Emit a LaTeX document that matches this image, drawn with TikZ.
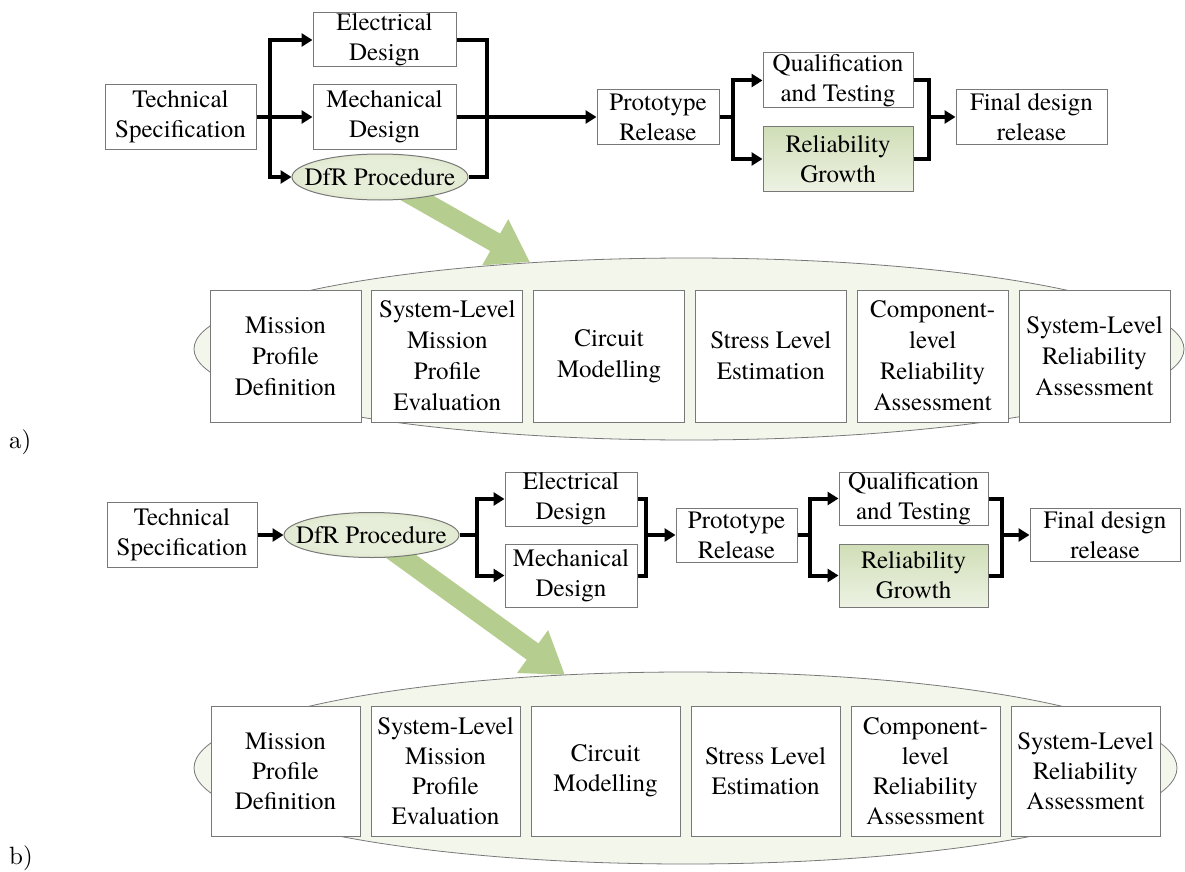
\documentclass[tikz,border=0pt]{standalone}
\usepackage{fontspec}
\setmainfont{texgyretermes-regular.otf}
\newfontfamily\lmfont{lmroman10-regular.otf}
\usetikzlibrary{arrows.meta,shapes.geometric,backgrounds}
\definecolor{boxline}{RGB}{120,120,120}
\definecolor{ellin}{RGB}{242,246,235}
\definecolor{ellout}{RGB}{192,211,158}
\definecolor{dfrin}{RGB}{230,237,216}
\definecolor{dfrout}{RGB}{198,215,168}
\definecolor{bigarr}{RGB}{181,205,142}
\definecolor{rgtop}{RGB}{208,222,183}
\definecolor{rgbot}{RGB}{237,242,227}
\pgfdeclareradialshading{ellshade}{\pgfpoint{0bp}{0bp}}{color(0bp)=(ellin); color(28bp)=(ellin); color(50bp)=(ellout)}
\pgfdeclareradialshading{dfrshade}{\pgfpoint{0bp}{0bp}}{color(0bp)=(dfrin); color(20bp)=(dfrin); color(50bp)=(dfrout)}
\tikzset{
  conn/.style={line width=4pt, black},
  arr/.style={conn, -{Triangle[length=11pt,width=13pt]}},
  box/.style={draw=boxline, line width=1pt, fill=white, align=center, inner sep=0pt,
    font=\rmfamily\fontsize{25}{30}\selectfont},
  stepbox/.style={box, minimum width=151pt, minimum height=132pt,
    font=\rmfamily\fontsize{25}{31}\selectfont},
  stepboxb/.style={box, minimum width=149pt, minimum height=130pt,
    font=\rmfamily\fontsize{25}{30}\selectfont},
  rg/.style={top color=rgtop, bottom color=rgbot},
  dfr/.style={ellipse, draw=boxline, line width=1pt, shade, shading=dfrshade, inner sep=0pt},
  dfrtext/.style={font=\rmfamily\fontsize{25}{30}\selectfont, inner sep=0pt},
  bigell/.style={ellipse, draw=boxline, line width=0.8pt, shade, shading=ellshade, inner sep=0pt},
  bigarrow/.style={bigarr, line width=20pt, -{Triangle[length=40pt,width=50pt]}},
  lbl/.style={anchor=base west, inner sep=0pt, font=\lmfont\fontsize{25}{30}\selectfont}
}
\begin{document}
\begin{tikzpicture}[x=1pt,y=-1pt]
\useasboundingbox (0,0) rectangle (1185,872);

% ---------------- part a ----------------
\node[bigell, minimum width=990pt, minimum height=182pt] (ellA) at (689,349) {};

\node[box, minimum width=151pt, minimum height=64pt] (tsA) at (180.5,117) {Technical\\Specification};
\node[box, minimum width=143pt, minimum height=54pt] (elA) at (384.5,40) {Electrical\\Design};
\node[box, minimum width=143pt, minimum height=64pt] (meA) at (384.5,117) {Mechanical\\Design};
\node[dfr, minimum width=176pt, minimum height=46pt,
      label={[dfrtext]center:DfR Procedure}] (dfrA) at (380,177) {};
\node[box, minimum width=122pt, minimum height=55pt] (prA) at (658,117) {Prototype\\Release};
\node[box, minimum width=150pt, minimum height=55pt] (qtA) at (838,80.5) {Qualification\\and Testing};
\node[box, rg, minimum width=150pt, minimum height=64pt] (rgA) at (838,159) {Reliability\\Growth};
\node[box, minimum width=151pt, minimum height=55pt] (fdA) at (1031.5,117) {Final design\\release};

\coordinate (busA1) at (270,117);
\coordinate (busA2) at (487,117);
\coordinate (busA3) at (733,117);
\coordinate (busA4) at (929,117);
\coordinate (tipA) at (530,262);

\draw[conn] (tsA.east) -- (busA1);
\draw[arr] (busA1) |- (elA.west);
\draw[arr] (busA1) -- (meA.west);
\draw[arr] (busA1) |- (dfrA.west);
\draw[conn] (elA.east) -| (busA2);
\draw[conn] (meA.east) -- (busA2);
\draw[conn] (dfrA.east) -| (busA2);
\draw[arr] (busA2) -- (prA.west);
\draw[conn] (prA.east) -- (busA3);
\draw[arr] (busA3) |- (qtA.west);
\draw[arr] (busA3) |- (rgA.west);
\draw[conn] (qtA.east) -| (busA4);
\draw[conn] (rgA.east) -| (busA4);
\draw[arr] (busA4) -- (fdA.west);

\node[stepbox] (a1) at (285.5,356) {Mission\\Profile\\Definition};
\node[stepbox] (a2) at (447.3,356) {System-Level\\Mission\\Profile\\Evaluation};
\node[stepbox] (a3) at (609.1,356) {Circuit\\Modelling};
\node[stepbox] (a4) at (770.9,356) {Stress Level\\Estimation};
\node[stepbox] (a5) at (932.7,356) {Component-\\level\\Reliability\\Assessment};
\node[stepbox] (a6) at (1094.5,356) {System-Level\\Reliability\\Assessment};

\node[lbl] (la) at (9,448) {a)};

% ---------------- part b ----------------
\node[bigell, minimum width=983pt, minimum height=192pt] (ellB) at (685.5,768) {};

\node[box, minimum width=150pt, minimum height=65pt] (tsB) at (182,535) {Technical\\Specification};
\node[dfr, minimum width=175pt, minimum height=45pt,
      label={[dfrtext]center:DfR Procedure}] (dfrB) at (371.5,535) {};
\node[box, minimum width=132pt, minimum height=54pt] (elB) at (571,499) {Electrical\\Design};
\node[box, minimum width=132pt, minimum height=63pt] (meB) at (571,575.5) {Mechanical\\Design};
\node[box, minimum width=121pt, minimum height=54pt] (prB) at (736.5,535) {Prototype\\Release};
\node[box, minimum width=149pt, minimum height=53pt] (qtB) at (913.5,498.5) {Qualification\\and Testing};
\node[box, rg, minimum width=149pt, minimum height=63pt] (rgB) at (913.5,575.5) {Reliability\\Growth};
\node[box, minimum width=150pt, minimum height=53pt] (fdB) at (1105,535) {Final design\\release};

\coordinate (busB1) at (477,535);
\coordinate (busB2) at (646,535);
\coordinate (busB3) at (810,535);
\coordinate (busB4) at (1002,535);
\coordinate (tipB) at (565,675);

\draw[arr] (tsB.east) -- (dfrB.west);
\draw[conn] (dfrB.east) -- (busB1);
\draw[arr] (busB1) |- (elB.west);
\draw[arr] (busB1) |- (meB.west);
\draw[conn] (elB.east) -| (busB2);
\draw[conn] (meB.east) -| (busB2);
\draw[arr] (busB2) -- (prB.west);
\draw[conn] (prB.east) -- (busB3);
\draw[arr] (busB3) |- (qtB.west);
\draw[arr] (busB3) |- (rgB.west);
\draw[conn] (qtB.east) -| (busB4);
\draw[conn] (rgB.east) -| (busB4);
\draw[arr] (busB4) -- (fdB.west);

\node[stepboxb] (b1) at (285.5,771) {Mission\\Profile\\Definition};
\node[stepboxb] (b2) at (445.5,771) {System-Level\\Mission\\Profile\\Evaluation};
\node[stepboxb] (b3) at (605.5,771) {Circuit\\Modelling};
\node[stepboxb] (b4) at (765.5,771) {Stress Level\\Estimation};
\node[stepboxb] (b5) at (925.5,771) {Component-\\level\\Reliability\\Assessment};
\node[stepboxb] (b6) at (1085.5,771) {System-Level\\Reliability\\Assessment};

\node[lbl] (lb) at (9,864) {b)};

% big green arrows behind the DfR ellipses
\begin{pgfonlayer}{background}
\draw[bigarrow] (dfrA.center) -- (tipA);
\draw[bigarrow] (dfrB.center) -- (tipB);
\end{pgfonlayer}
\end{tikzpicture}
\end{document}
